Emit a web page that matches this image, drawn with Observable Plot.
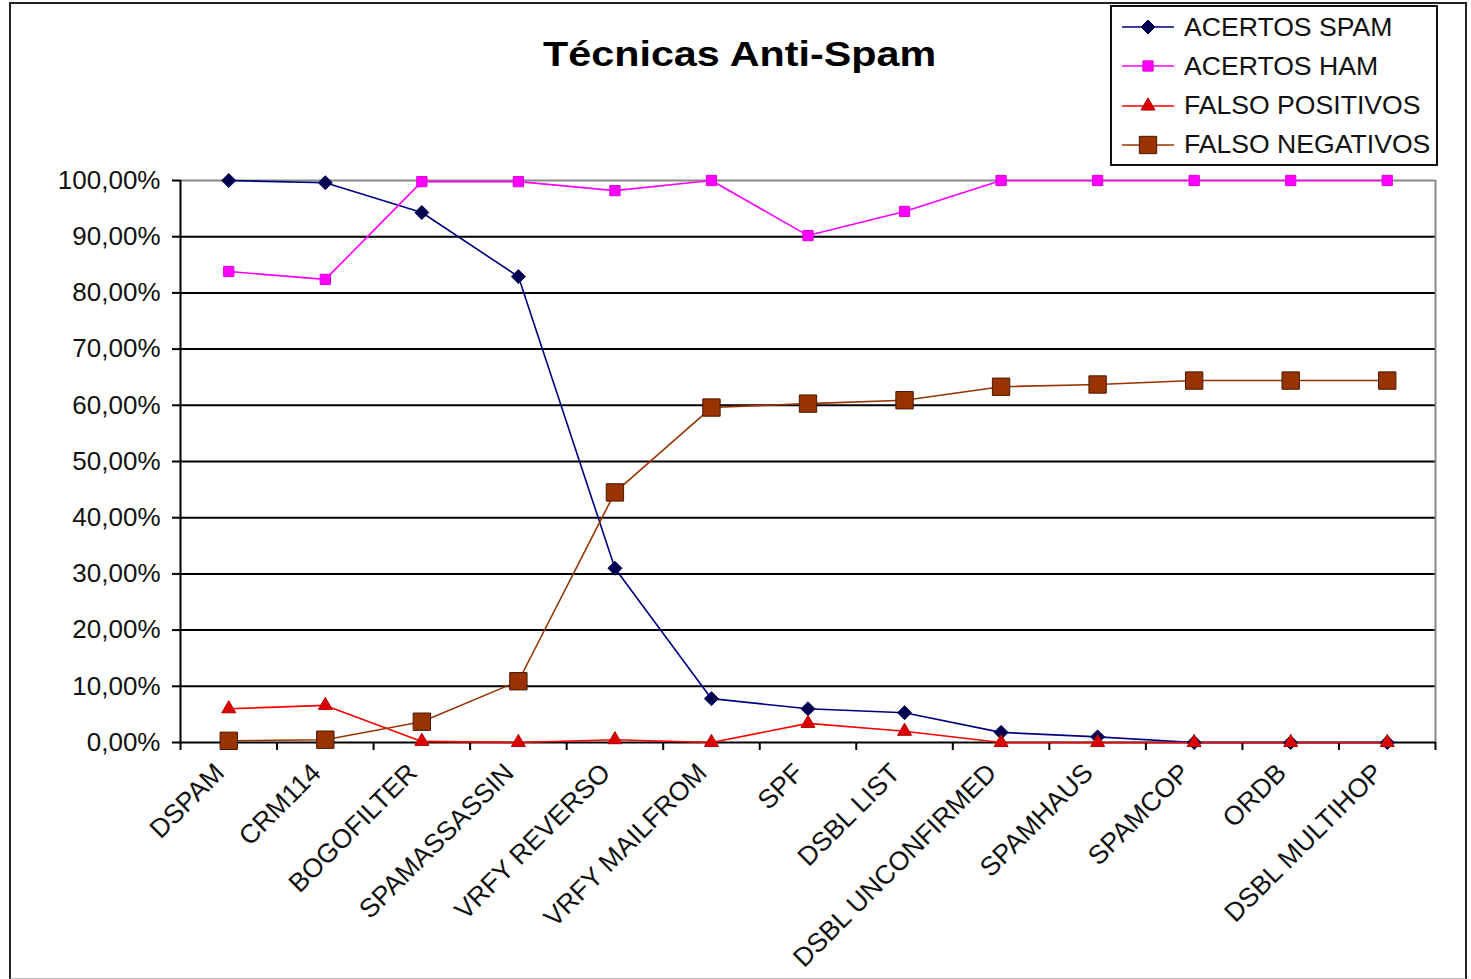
<!DOCTYPE html>
<html><head><meta charset="utf-8">
<script src="https://cdn.jsdelivr.net/npm/d3@7"></script>
<script src="https://cdn.jsdelivr.net/npm/@observablehq/plot@0.6"></script>
<style>
body{margin:0;background:#fff;}
#wrap{position:relative;width:1471px;height:979px;overflow:hidden;font-family:"Liberation Sans",Arial,sans-serif;background:#fff;}
#frame{position:absolute;left:9px;top:2px;width:1454px;height:974px;border:2px solid #222;border-bottom-color:#bbb;}
#chart{position:absolute;left:0;top:0;}
#title{position:absolute;left:0;top:34px;width:1480px;text-align:center;font-weight:bold;font-size:35px;color:#000;}
#title span{display:inline-block;transform:scaleX(1.18);}
#legend{position:absolute;left:1110px;top:5px;width:324px;height:157px;border:2px solid #111;background:#fff;}
.row{position:absolute;left:10px;height:30px;display:flex;align-items:center;font-size:26.6px;color:#111;}
.row svg{margin-right:10px;}
</style></head><body>
<div id="wrap">
  <div id="frame"></div>
  <div id="chart"></div>
  <div id="title"><span>Técnicas Anti-Spam</span></div>
  <div id="legend"></div>
</div>
<script>
const categories = ["DSPAM","CRM114","BOGOFILTER","SPAMASSASSIN","VRFY REVERSO","VRFY MAILFROM","SPF","DSBL LIST","DSBL UNCONFIRMED","SPAMHAUS","SPAMCOP","ORDB","DSBL MULTIHOP"];
const seriesNames = ["ACERTOS SPAM","ACERTOS HAM","FALSO POSITIVOS","FALSO NEGATIVOS"];
const acertosSpam    = [100, 99.6, 94.3, 82.9, 31.0, 7.8, 6.0, 5.3, 1.8, 1.0, 0, 0, 0];
const acertosHam     = [83.8, 82.4, 99.8, 99.8, 98.2, 100, 90.2, 94.5, 100, 100, 100, 100, 100];
const falsoPositivos = [6.0, 6.6, 0.2, 0, 0.5, 0, 3.4, 2.0, 0, 0, 0, 0, 0];
const falsoNegativos = [0.3, 0.5, 3.7, 10.9, 44.5, 59.6, 60.3, 60.9, 63.3, 63.7, 64.4, 64.4, 64.4];
const yTicks = [0,10,20,30,40,50,60,70,80,90,100];

const styles = {
  "ACERTOS SPAM":    {line:"#000080", fill:"#000050", stroke:"#000050", symbol:"diamond2", r:6.3},
  "ACERTOS HAM":     {line:"#ff00ff", fill:"#ff00ff", stroke:"#dd00dd", symbol:"square", r:5.8},
  "FALSO POSITIVOS": {line:"#ff0000", fill:"#dd0000", stroke:"#b00000", symbol:"triangle", r:5.2},
  "FALSO NEGATIVOS": {line:"#993300", fill:"#993300", stroke:"#4a1800", symbol:"square", r:9.8}
};
const valuesBySeries = [acertosSpam, acertosHam, falsoPositivos, falsoNegativos];
const rows = [];
seriesNames.forEach((s, si) => valuesBySeries[si].forEach((v, i) => rows.push({series: s, i, value: v})));

const idx = d3.range(categories.length);
const boundaries = d3.range(categories.length + 1).map(k => k - 0.5);
const fmt = d => d.toFixed(2).replace(".", ",") + "%";

const lineMarks = [];
const dotMarks = [];
seriesNames.forEach(s => {
  const st = styles[s];
  const data = rows.filter(r => r.series === s);
  lineMarks.push(Plot.line(data, {x: "i", y: "value", stroke: st.line, strokeWidth: 1.6}));
  dotMarks.push(Plot.dot(data, {x: "i", y: "value", symbol: () => st.symbol, r: st.r, fill: st.fill, stroke: st.stroke, strokeWidth: 1}));
});

const chart = Plot.plot({
  width: 1471,
  height: 979,
  marginLeft: 180,
  marginRight: 36,
  marginTop: 180,
  marginBottom: 237,
  style: {fontFamily: "'Liberation Sans', Arial, sans-serif", fontSize: "26px", color: "#111", background: "transparent"},
  x: {domain: [-0.5, categories.length - 0.5]},
  y: {domain: [0, 100]},
  symbol: {type: "identity"},
  marks: [
    Plot.ruleY(yTicks.filter(t => t > 0 && t < 100), {stroke: "#000", strokeWidth: 2}),
    Plot.ruleY([100], {stroke: "#888", strokeWidth: 2}),
    Plot.ruleX([categories.length - 0.5], {y1: 0, y2: 100, stroke: "#888", strokeWidth: 2}),
    Plot.ruleX([-0.5], {y1: 0, y2: 100, stroke: "#000", strokeWidth: 2}),
    Plot.ruleY([0], {stroke: "#000", strokeWidth: 2}),
    Plot.axisY({ticks: yTicks, tickFormat: fmt, tickSize: 8, tickPadding: 12, fontSize: 26, stroke: "#000", strokeWidth: 2, label: null, style: {letterSpacing: "0.8px"}}),
    Plot.axisX({ticks: boundaries, tickSize: 8, tickFormat: () => "", stroke: "#000", strokeWidth: 2, label: null}),
    Plot.axisX({ticks: idx, tickSize: 0, tickPadding: 26, dx: -9, tickRotate: -45, tickFormat: i => categories[i], fontSize: 26.5, label: null, style: {letterSpacing: "0.2px"}}),
    ...lineMarks,
    ...dotMarks
  ]
});
document.getElementById("chart").appendChild(chart);

// legend
const legend = document.getElementById("legend");
const symMap = {diamond2: d3.symbolDiamond2, square: d3.symbolSquare, triangle: d3.symbolTriangle};
seriesNames.forEach((s, k) => {
  const st = styles[s];
  const row = document.createElement("div");
  row.className = "row";
  row.style.top = (5 + k * 39.3) + "px";
  const path = d3.symbol(symMap[st.symbol], Math.PI * st.r * st.r)();
  row.innerHTML = `<svg width="52" height="30"><line x1="0" y1="15" x2="52" y2="15" stroke="${st.line}" stroke-width="1.6"/><path d="${path}" transform="translate(26,15)" fill="${st.fill}" stroke="${st.stroke}"/></svg><span>${s}</span>`;
  legend.appendChild(row);
});
</script>
</body></html>
